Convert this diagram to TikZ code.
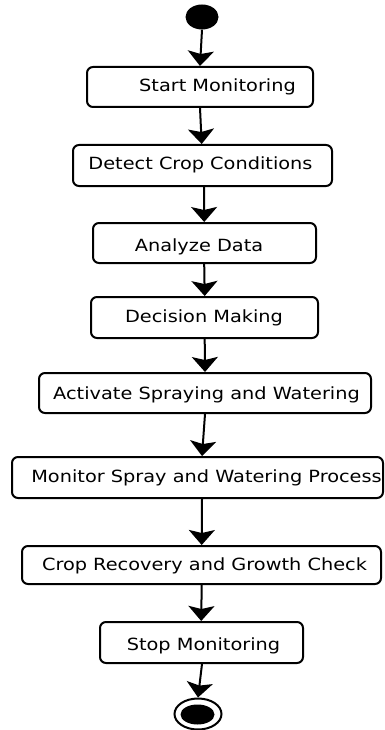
\documentclass[tikz,border=0pt]{standalone}
\usepackage{fontspec}
\setmainfont{DejaVu Sans}[FakeStretch=1.15]
\usetikzlibrary{arrows.meta,shapes.geometric}
\begin{document}
\begin{tikzpicture}[x=1pt,y=-1pt,
  box/.style={draw, line width=2pt, rounded corners=6pt, inner sep=0pt},
  lbl/.style={font=\fontsize{16.8}{18}\selectfont, inner sep=0pt, text=black, anchor=base},
  arr/.style={line width=2pt, -{Stealth[length=15pt,width=26pt,inset=3pt]}}]
\useasboundingbox (0,0) rectangle (384,730);
% start / end
\node[fill, ellipse, inner sep=0pt, minimum width=33pt, minimum height=25pt] (s) at (202,17) {};
\node[draw, ellipse, line width=2pt, inner sep=0pt, minimum width=47pt, minimum height=31pt] (e) at (198,714) {};
\node[fill, ellipse, inner sep=0pt, minimum width=34pt, minimum height=20pt] (ei) at (197.5,714.5) {};
% boxes
\node[box, minimum width=226pt, minimum height=40pt] (b1) at (200,87) {};
\node[box, minimum width=259pt, minimum height=41pt] (b2) at (202.5,165.5) {};
\node[box, minimum width=223pt, minimum height=40pt] (b3) at (204.5,243) {};
\node[box, minimum width=227pt, minimum height=41pt] (b4) at (204.5,317.5) {};
\node[box, minimum width=332pt, minimum height=40pt] (b5) at (205,393) {};
\node[box, minimum width=371pt, minimum height=41pt] (b6) at (197.5,477.5) {};
\node[box, minimum width=359pt, minimum height=38pt] (b7) at (201.5,565) {};
\node[box, minimum width=203pt, minimum height=41pt] (b8) at (201.5,642.5) {};
% labels
\node[lbl] (t1) at (217.5,92) {Start Monitoring};
\node[lbl] (t2) at (200.5,170) {Detect Crop Conditions};
\node[lbl] (t3) at (199,251) {Analyze Data};
\node[lbl] (t4) at (204,322) {Decision Making};
\node[lbl] (t5) at (206.5,399) {Activate Spraying and Watering};
\node[lbl] (t6) at (206.5,482) {Monitor Spray and Watering Process};
\node[lbl] (t7) at (204.5,570) {Crop Recovery and Growth Check};
\node[lbl] (t8) at (203.5,650.5) {Stop Monitoring};
% arrows
\draw[arr] (s.south) -- (b1.north);
\draw[arr] (b1.south) -- ([xshift=-0.8pt]b2.north);
\draw[arr] ([xshift=1.5pt]b2.south) -- ([xshift=-0.3pt]b3.north);
\draw[arr] ([xshift=-0.3pt]b3.south) -- ([xshift=0.2pt]b4.north);
\draw[arr] ([xshift=0.2pt]b4.south) -- (b5.north);
\draw[arr] (b5.south) -- ([xshift=4.5pt]b6.north);
\draw[arr] ([xshift=4.5pt]b6.south) -- ([xshift=0.2pt]b7.north);
\draw[arr] ([xshift=0.2pt]b7.south) -- ([xshift=-0.3pt]b8.north);
\draw[arr] ([xshift=0.5pt]b8.south) -- (e.north);
\end{tikzpicture}
\end{document}
